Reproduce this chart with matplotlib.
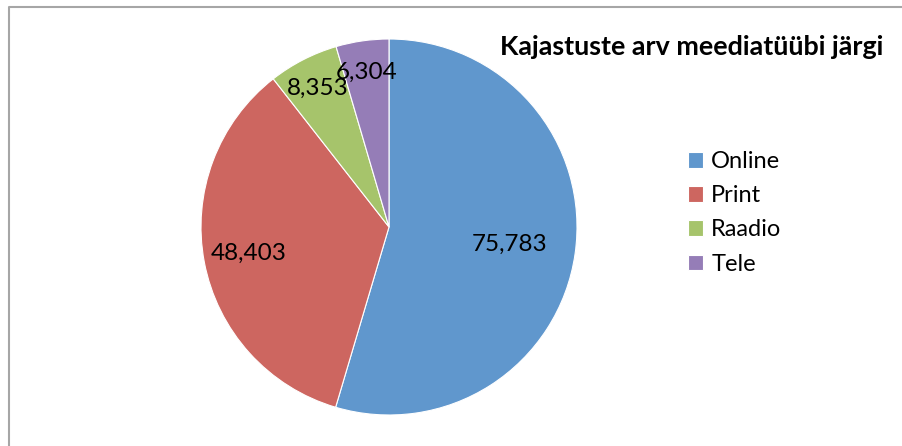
import matplotlib
matplotlib.use("Agg")
import matplotlib.pyplot as plt
import numpy as np
from matplotlib.lines import Line2D

categories = ["Online", "Print", "Raadio", "Tele"]
values = [75783, 48403, 8353, 6304]
value_labels = ["75,783", "48,403", "8,353", "6,304"]
title = "Kajastuste arv meediatüübi järgi"

colors = ["#6097CD", "#CD6660", "#A6C46B", "#957DB7"]
label_dist = [0.65, 0.76, 0.83, 0.83]

W, H = 903, 446
fig = plt.figure(figsize=(W / 100, H / 100), dpi=100)
plt.rcParams['font.family'] = ['Lato', 'DejaVu Sans']

# outer chart border (top and left visible)
border = Line2D([8.5 / W, 8.5 / W, 1.0], [0.0, 1 - 6.5 / H, 1 - 6.5 / H],
                transform=fig.transFigure, color="#A6A6A6", lw=1.5)
fig.add_artist(border)

cx, cy, r = 389, 227, 188
ax = fig.add_axes([(cx - r) / W, (H - cy - r) / H, 2 * r / W, 2 * r / H])
wedges, _ = ax.pie(values, colors=colors, startangle=90, counterclock=False,
                   radius=1.0, wedgeprops=dict(edgecolor="white", linewidth=0.8))
ax.set_xlim(-1, 1)
ax.set_ylim(-1, 1)
ax.set_aspect("equal")
ax.axis("off")

for w, lab, d in zip(wedges, value_labels, label_dist):
    ang = np.deg2rad((w.theta1 + w.theta2) / 2)
    ax.text(d * np.cos(ang), d * np.sin(ang), lab, ha="center", va="center",
            fontsize=17.5, color="black")

fig.text(692 / W, 1 - 47 / H, title, ha="center", va="center",
         fontsize=19.4, fontweight="bold")

leg = fig.legend(wedges, categories, loc="upper left",
                 bbox_to_anchor=(688 / W, 1 - 151 / H), frameon=False,
                 fontsize=17, handlelength=0.64, handleheight=0.64,
                 handletextpad=0.34, labelspacing=0.56, borderaxespad=0,
                 borderpad=0)

fig.savefig("out.png", dpi=100)
